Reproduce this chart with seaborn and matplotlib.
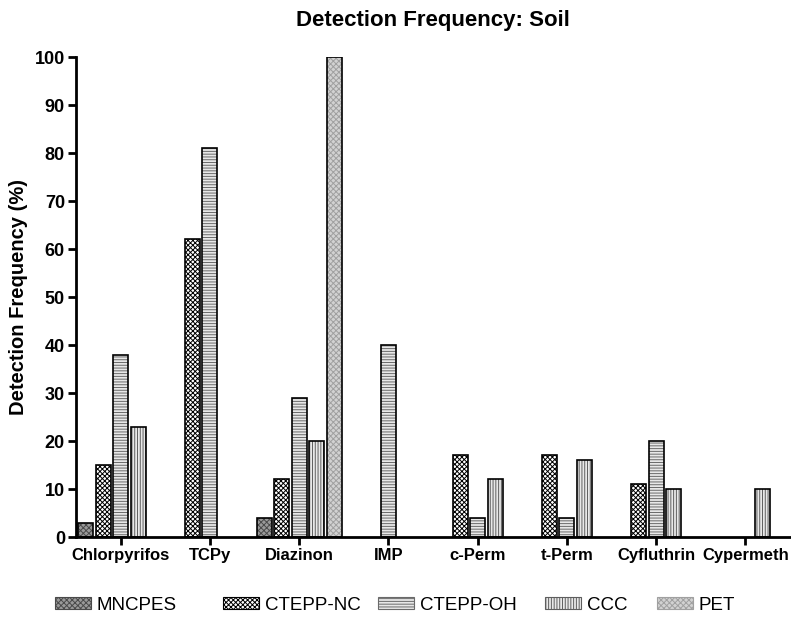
import numpy as np
import pandas as pd
import matplotlib
matplotlib.use("Agg")
import matplotlib.pyplot as plt
import seaborn as sns
from matplotlib.patches import Patch, Rectangle

compounds = ["Chlorpyrifos", "TCPy", "Diazinon", "IMP", "c-Perm", "t-Perm", "Cyfluthrin", "Cypermeth"]
studies = ["MNCPES", "CTEPP-NC", "CTEPP-OH", "CCC", "PET"]

mncpes   = [3, None, 4, None, None, None, None, None]
ctepp_nc = [15, 62, 12, None, 17, 17, 11, None]
ctepp_oh = [38, 81, 29, 40, 4, 4, 20, None]
ccc      = [23, None, 20, None, 12, 16, 10, 10]
pet      = [None, None, 100, None, None, None, None, None]

series = {"MNCPES": mncpes, "CTEPP-NC": ctepp_nc, "CTEPP-OH": ctepp_oh, "CCC": ccc, "PET": pet}
yticks = list(range(0, 101, 10))

rows = []
for s in studies:
    for c, v in zip(compounds, series[s]):
        rows.append({"Compound": c, "Study": s, "Value": np.nan if v is None else v})
df = pd.DataFrame(rows)

sns.set_theme(style="white")
plt.rcParams["font.family"] = ["Liberation Sans", "DejaVu Sans"]
plt.rcParams["hatch.linewidth"] = 0.7
for k in ["text.color", "axes.labelcolor", "xtick.color", "ytick.color", "axes.edgecolor"]:
    plt.rcParams[k] = "black"

styles = {
    "MNCPES":   dict(facecolor="#9a9a9a", hatch="xxxxxx", hatchcolor="#4a4a4a"),
    "CTEPP-NC": dict(facecolor="#ffffff", hatch="xxxxxxx", hatchcolor="#000000"),
    "CTEPP-OH": dict(facecolor="#e8e8e8", hatch="------", hatchcolor="#6a6a6a"),
    "CCC":      dict(facecolor="#e8e8e8", hatch="||||||", hatchcolor="#5e5e5e"),
    "PET":      dict(facecolor="#d2d2d2", hatch="xxxxxx", hatchcolor="#a0a0a0"),
}

fig = plt.figure(figsize=(7.91, 6.17), dpi=100)
ax = fig.add_axes([76/791, 80/617, 714/791, 480/617])

sns.barplot(data=df, x="Compound", y="Value", hue="Study", order=compounds,
            hue_order=studies, width=0.98, gap=0.13, ax=ax, legend=False,
            edgecolor="black", linewidth=1.2, errorbar=None)

for cont, s in zip(ax.containers, studies):
    st = styles[s]
    for p in cont.patches:
        p.set_facecolor(st["facecolor"])
        p.set_edgecolor(st["hatchcolor"])
        p.set_hatch(st["hatch"])
        p.set_linewidth(0)
        h = p.get_height()
        if np.isfinite(h) and h > 0:
            ax.add_patch(Rectangle(p.get_xy(), p.get_width(), h, fill=False,
                                   edgecolor="black", linewidth=1.2, zorder=p.get_zorder() + 0.1))

ax.set_xlim(-0.5, 7.5)
ax.set_ylim(0, 100)
ax.set_yticks(yticks)
ax.set_yticklabels([str(t) for t in yticks], fontsize=13, fontweight="bold")
ax.set_xticks(range(len(compounds)))
ax.set_xticklabels(compounds, fontsize=12, fontweight="bold")
ax.set_xlabel("")
ax.set_ylabel("Detection Frequency (%)", fontsize=14.5, fontweight="bold", labelpad=5)
ax.set_title("Detection Frequency: Soil", fontsize=16, fontweight="bold", pad=22)
for side in ["top", "right"]:
    ax.spines[side].set_visible(False)
for side in ["left", "bottom"]:
    ax.spines[side].set_linewidth(2)
    ax.spines[side].set_color("black")
    ax.spines[side].set_zorder(5)
ax.tick_params(axis="both", direction="out", length=6, width=2, colors="black", pad=2,
               left=True, bottom=True)

legend_x = [55, 223, 378, 545, 657]
fs = 13.5
fpx = fs * 100 / 72
for s, lx in zip(studies, legend_x):
    st = styles[s]
    h = Patch(facecolor=st["facecolor"], hatch=st["hatch"], edgecolor=st["hatchcolor"],
              linewidth=0.8, label=s)
    fig.legend(handles=[h], loc="center left", bbox_to_anchor=(lx / 791, 1 - 605 / 617),
               frameon=False, prop={"size": fs}, borderpad=0, borderaxespad=0,
               handlelength=36 / fpx, handleheight=12 / fpx, handletextpad=6 / fpx)

fig.savefig("out.png", dpi=100)
